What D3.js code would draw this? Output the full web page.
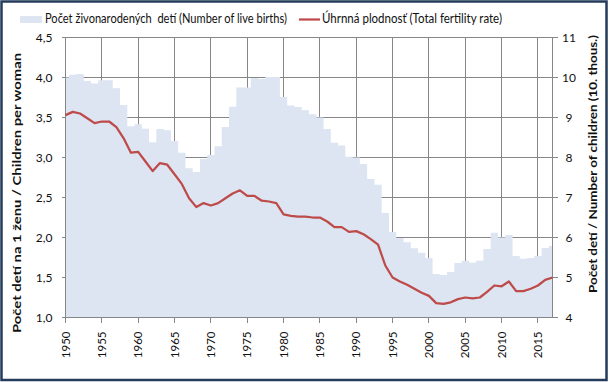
<!DOCTYPE html>
<html><head><meta charset="utf-8">
<script src="https://cdn.jsdelivr.net/npm/d3@7"></script>
<style>body{margin:0;background:#fff}svg{display:block}text{font-family:Lato,'Open Sans',sans-serif;fill:#111}</style>
</head><body><svg id="c" width="609" height="382"></svg>
<script>
const years = [1950,1951,1952,1953,1954,1955,1956,1957,1958,1959,1960,1961,1962,1963,1964,1965,1966,1967,1968,1969,
1970,1971,1972,1973,1974,1975,1976,1977,1978,1979,1980,1981,1982,1983,1984,1985,1986,1987,1988,1989,
1990,1991,1992,1993,1994,1995,1996,1997,1998,1999,2000,2001,2002,2003,2004,2005,2006,2007,2008,2009,
2010,2011,2012,2013,2014,2015,2016,2017];
// live births, in 10 thousands (right axis)
const births = [10.00,10.07,10.09,9.91,9.85,9.93,9.93,9.73,9.31,8.78,8.83,8.72,8.38,8.71,8.68,8.41,8.12,7.73,7.64,7.96,
8.06,8.28,8.76,9.27,9.75,9.75,9.99,9.96,10.01,10.01,9.51,9.30,9.26,9.18,9.08,9.00,8.71,8.37,8.30,8.02,
8.00,7.84,7.46,7.32,6.61,6.14,5.99,5.88,5.73,5.62,5.49,5.09,5.06,5.14,5.36,5.42,5.37,5.42,5.71,6.12,
6.00,6.06,5.54,5.47,5.49,5.54,5.74,5.79];
// total fertility rate (left axis)
const tfr = [3.53,3.57,3.55,3.49,3.43,3.45,3.45,3.38,3.24,3.06,3.07,2.95,2.83,2.93,2.91,2.79,2.67,2.49,2.38,2.43,
2.40,2.43,2.49,2.55,2.59,2.52,2.52,2.46,2.45,2.43,2.29,2.27,2.26,2.26,2.25,2.25,2.20,2.13,2.13,2.07,
2.08,2.04,1.98,1.91,1.65,1.50,1.45,1.41,1.36,1.31,1.27,1.18,1.17,1.19,1.23,1.25,1.24,1.25,1.32,1.40,
1.39,1.45,1.33,1.33,1.36,1.40,1.47,1.50];
const leftTicks = [1.0,1.5,2.0,2.5,3.0,3.5,4.0,4.5];
const leftTickLabels = ["1,0","1,5","2,0","2,5","3,0","3,5","4,0","4,5"];
const rightTicks = [4,5,6,7,8,9,10,11];
const xTicks = [1950,1955,1960,1965,1970,1975,1980,1985,1990,1995,2000,2005,2010,2015];
const legendLabels = ["Počet živonarodených  detí (Number of live births)","Úhrnná plodnosť (Total fertility rate)"];
const leftTitle = "Počet detí na 1 ženu / Children per woman";
const rightTitle = "Počet detí / Number of children (10. thous.)";

const svg = d3.select("#c");
const L = 65.5, R = 552.5, T = 37.5, B = 317.5;
const x = d3.scaleLinear().domain([1950, 2017]).range([L, R]);
const yL = d3.scaleLinear().domain([1, 4.5]).range([B, T]);
const yR = d3.scaleLinear().domain([4, 11]).range([B, T]);
const gridC = "#878787", areaC = "#DCE5F1", lineC = "#BE4B4A";

svg.append("rect").attr("width",609).attr("height",382).attr("fill","#fff");

// gridlines
const g = svg.append("g").attr("shape-rendering","crispEdges");
g.selectAll(".hg").data(leftTicks).join("line")
  .attr("x1", L-4).attr("x2", R+5).attr("y1", d=>yL(d)).attr("y2", d=>yL(d))
  .attr("stroke", gridC).attr("stroke-width",1);
g.selectAll(".vg").data(xTicks).join("line")
  .attr("x1", d=>x(d)).attr("x2", d=>x(d)).attr("y1", T).attr("y2", B+5)
  .attr("stroke", gridC).attr("stroke-width",1);

// births area (stepped)
const area = d3.area().x((d,i)=>x(years[i])).y0(yR(4)).y1(d=>yR(d)).curve(d3.curveStep);
svg.append("path").datum(births).attr("d", area).attr("fill", areaC);

// axes lines
const a = svg.append("g").attr("shape-rendering","crispEdges");
a.append("line").attr("x1",L).attr("x2",L).attr("y1",T).attr("y2",B).attr("stroke",gridC);
a.append("line").attr("x1",R).attr("x2",R).attr("y1",T).attr("y2",B).attr("stroke",gridC);
a.append("line").attr("x1",L-4).attr("x2",R+5).attr("y1",B).attr("y2",B).attr("stroke",gridC);
a.selectAll(".xt").data(xTicks).join("line")
  .attr("x1", d=>x(d)).attr("x2", d=>x(d)).attr("y1", B).attr("y2", B+5).attr("stroke", gridC);

// TFR line
const line = d3.line().x((d,i)=>x(years[i])).y(d=>yL(d));
svg.append("path").datum(tfr).attr("d", line).attr("fill","none")
  .attr("stroke", lineC).attr("stroke-width", 2.25).attr("stroke-linejoin","round");

// tick labels
svg.selectAll(".yl").data(leftTicks).join("text")
  .attr("x", 52.5).attr("y", d=>yL(d)).attr("dy","0.35em").attr("text-anchor","end")
  .attr("font-size", 12).text((d,i)=>leftTickLabels[i]);
svg.selectAll(".yr").data(rightTicks).join("text")
  .attr("x", 569).attr("y", d=>yR(d)).attr("dy","0.35em").attr("text-anchor","middle")
  .attr("font-size", 12).text(d=>d);
svg.selectAll(".xl").data(xTicks).join("text")
  .attr("transform", d=>`translate(${x(d)},${B+14}) rotate(-90)`)
  .attr("dy","0.35em").attr("text-anchor","end").attr("font-size", 11.5).text(d=>d);

// axis titles
svg.append("text").attr("transform","translate(21,193) rotate(-90)")
  .attr("text-anchor","middle").attr("font-size",12).attr("font-weight","bold")
  .attr("textLength",280).attr("lengthAdjust","spacingAndGlyphs").text(leftTitle);
svg.append("text").attr("transform","translate(597,164) rotate(-90)")
  .attr("text-anchor","middle").attr("font-size",12).attr("font-weight","bold")
  .attr("textLength",258).attr("lengthAdjust","spacingAndGlyphs").text(rightTitle);

// legend
svg.append("rect").attr("x",20).attr("y",16).attr("width",22).attr("height",7).attr("fill",areaC);
svg.append("text").attr("x",45).attr("y",23).attr("font-size",12.5)
  .attr("textLength",242).attr("lengthAdjust","spacingAndGlyphs").style("white-space","pre").text(legendLabels[0]);
svg.append("line").attr("x1",299).attr("x2",320).attr("y1",19.5).attr("y2",19.5)
  .attr("stroke",lineC).attr("stroke-width",2.25);
svg.append("text").attr("x",322).attr("y",23).attr("font-size",12.5)
  .attr("textLength",180).attr("lengthAdjust","spacingAndGlyphs").text(legendLabels[1]);

// outer frame
svg.append("rect").attr("x",1.5).attr("y",1.5).attr("width",605).attr("height",378.5)
  .attr("fill","none").attr("stroke","#243B5C").attr("stroke-width",2.5);
</script></body></html>
